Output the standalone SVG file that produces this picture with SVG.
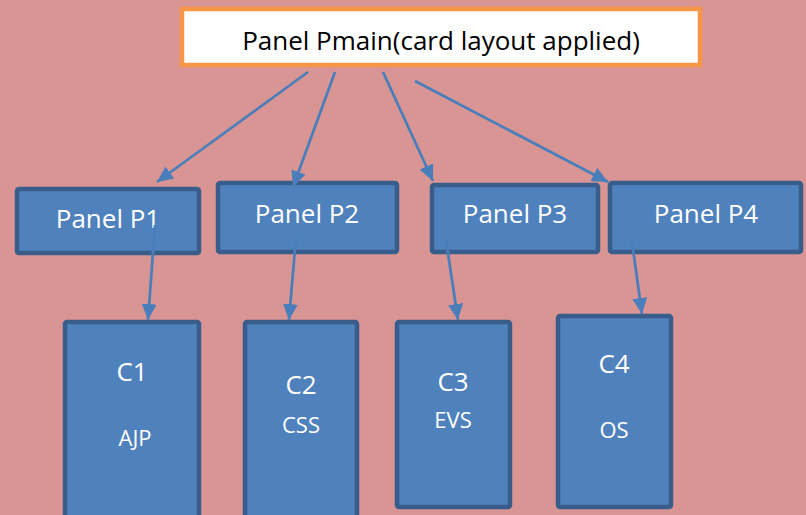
<svg xmlns="http://www.w3.org/2000/svg" width="806" height="515" viewBox="0 0 806 515">
<defs>
<marker id="ah" markerUnits="userSpaceOnUse" markerWidth="18" markerHeight="15" refX="16" refY="7.5" orient="auto">
<path d="M0,0 L16,7.5 L0,15 Z" fill="#4A7EBB"/>
</marker>
<style>
.node{fill:#4F81BD;stroke:#385D8A;stroke-width:4.5}
.lbl{font-family:"Open Sans","Liberation Sans",sans-serif;fill:#FFFFFF;text-anchor:middle}
.conn{stroke:#4A7EBB;stroke-width:2.75;fill:none;marker-end:url(#ah)}
</style>
</defs>
<rect x="0" y="0" width="806" height="515" fill="#D99594"/>
<g id="pmain">
<rect x="182" y="9" width="518" height="56" fill="#FFFFFF" stroke="#F79646" stroke-width="4.5"/>
<text x="441" y="50" font-family="'Open Sans','Liberation Sans',sans-serif" font-size="26" fill="#000000" text-anchor="middle">Panel Pmain(card layout applied)</text>
</g>
<g id="p1"><rect class="node" x="17" y="189" width="182" height="64" rx="2"/><text class="lbl" x="108" y="228" font-size="26">Panel P1</text></g>
<g id="p2"><rect class="node" x="218" y="183" width="179" height="69" rx="2"/><text class="lbl" x="307" y="223" font-size="26">Panel P2</text></g>
<g id="p3"><rect class="node" x="432" y="185" width="166" height="67" rx="2"/><text class="lbl" x="515" y="223" font-size="26">Panel P3</text></g>
<g id="p4"><rect class="node" x="610" y="183" width="191" height="69" rx="2"/><text class="lbl" x="706" y="223" font-size="26">Panel P4</text></g>
<g id="c1"><rect class="node" x="65" y="322" width="134" height="200" rx="2"/><text class="lbl" x="132" y="381" font-size="26">C1</text><text class="lbl" x="135" y="446" font-size="22">AJP</text></g>
<g id="c2"><rect class="node" x="245" y="322" width="112" height="200" rx="2"/><text class="lbl" x="301" y="394" font-size="26">C2</text><text class="lbl" x="301" y="433" font-size="22">CSS</text></g>
<g id="c3"><rect class="node" x="397" y="322" width="113" height="185" rx="2"/><text class="lbl" x="453" y="391" font-size="26">C3</text><text class="lbl" x="453" y="428" font-size="22">EVS</text></g>
<g id="c4"><rect class="node" x="558" y="316" width="113" height="191" rx="2"/><text class="lbl" x="614" y="373" font-size="26">C4</text><text class="lbl" x="614" y="438" font-size="22">OS</text></g>
<g id="connectors">
<line class="conn" x1="308" y1="72" x2="157" y2="182"/>
<line class="conn" x1="335" y1="72" x2="293" y2="187"/>
<line class="conn" x1="383" y1="72" x2="433" y2="181"/>
<line class="conn" x1="415" y1="81" x2="608" y2="182"/>
<line class="conn" x1="155" y1="225" x2="148" y2="320"/>
<line class="conn" x1="296" y1="237" x2="289" y2="320"/>
<line class="conn" x1="446" y1="240" x2="458" y2="320"/>
<line class="conn" x1="632" y1="242" x2="642" y2="314"/>
</g>
</svg>
